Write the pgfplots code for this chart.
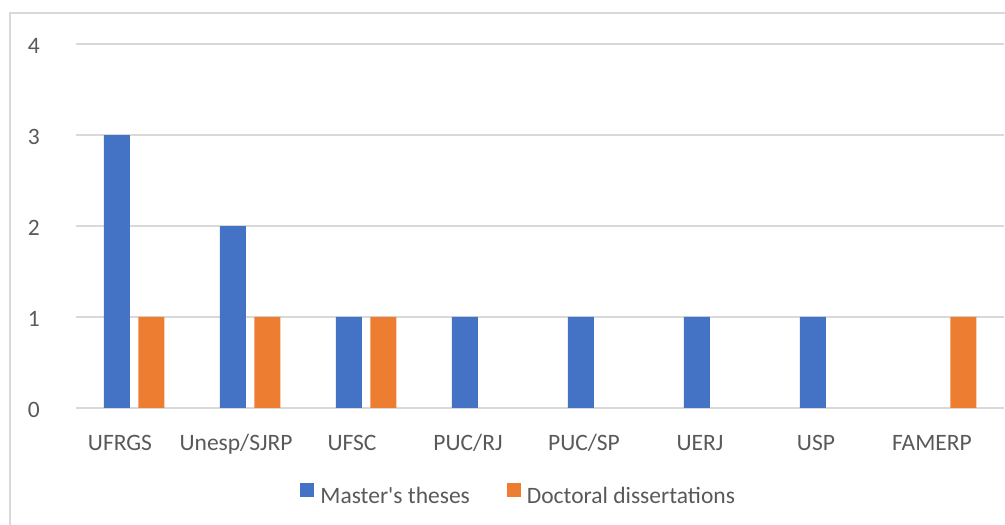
\documentclass[border=0pt]{standalone}
\usepackage{pgfplots}
\pgfplotsset{compat=1.18}
\usepackage{fontspec}
\setmainfont{Carlito}
\definecolor{mblue}{HTML}{4472C4}
\definecolor{morange}{HTML}{ED7D31}
\definecolor{gridgray}{HTML}{D9D9D9}
\definecolor{textgray}{HTML}{595959}
\begin{document}
\begin{tikzpicture}
\fontsize{23.5pt}{28pt}\selectfont
\begin{axis}[
  at={(76pt,117pt)}, anchor=south west,
  scale only axis, width=928pt, height=364pt,
  xmin=-0.5, xmax=7.5, ymin=0, ymax=4,
  ybar, bar width=26pt,
  xtick={0,1,2,3,4,5,6,7},
  xticklabels={UFRGS,Unesp/SJRP,UFSC,PUC/RJ,PUC/SP,UERJ,USP,FAMERP},
  ytick={0,1,2,3,4},
  axis x line*=bottom, axis y line*=left,
  x axis line style={draw=gridgray, line width=2pt, -},
  y axis line style={draw=none},
  major tick length=0pt,
  ymajorgrids, grid style={draw=gridgray, line width=2pt},
  /pgf/number format/assume math mode=true,
  tick label style={font=\fontsize{23.5pt}{28pt}\selectfont, text=textgray},
  xticklabel style={anchor=base, yshift=-42pt, xshift=-14pt},
  yticklabel style={anchor=east, inner sep=0pt, xshift=-36pt, yshift=-2pt},
  legend columns=2,
  legend style={at={(0.476,-0.239)}, anchor=center, draw=none, fill=none,
    inner sep=0pt, font=\fontsize{23.5pt}{28pt}\selectfont, text=textgray,
    nodes={inner sep=0pt},
    /tikz/every odd column/.append style={column sep=6pt},
    /tikz/every even column/.append style={column sep=37pt}},
  legend image code/.code={\fill[#1, draw=none] (0pt,0pt) rectangle (14pt,14pt);},
]
\addplot[fill=mblue, draw=none, bar shift=-17pt] coordinates {(0,3) (1,2) (2,1) (3,1) (4,1) (5,1) (6,1)};
\addplot[fill=morange, draw=none, bar shift=17.5pt] coordinates {(0,1) (1,1) (2,1) (7,1)};
\legend{Master\textquotesingle s theses, Doctoral dissertations}
\end{axis}
\draw[gridgray, line width=1.3pt] (10pt,512pt) rectangle (1020pt,-20pt);
\pgfresetboundingbox
\path[use as bounding box] (0pt,0pt) rectangle (1005pt,525pt);
\end{tikzpicture}
\end{document}
